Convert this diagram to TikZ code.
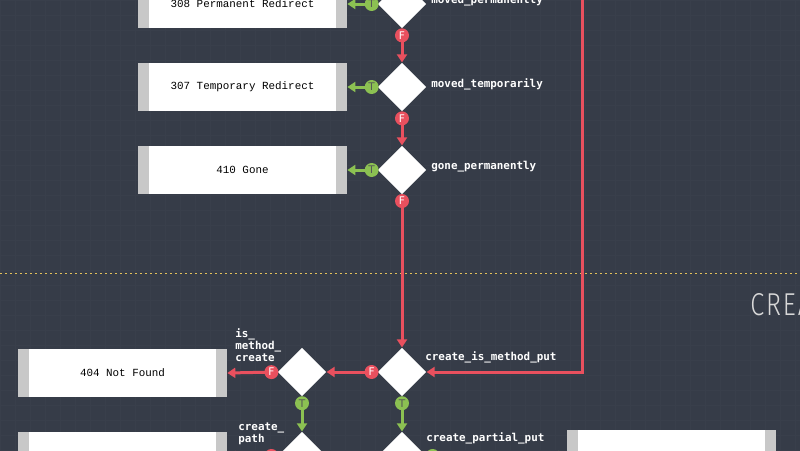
\documentclass[tikz,border=0pt]{standalone}
\usepackage{fontspec}
\setmonofont{DejaVu Sans Mono}
\newfontfamily\boxfont{Liberation Mono}
\newfontfamily\tagfont{DejaVu Sans}
\newfontfamily\headfont[FakeStretch=0.8,LetterSpace=6]{Fira Sans Light}
\usepackage{xcolor}
\usepackage{tikz}
\usetikzlibrary{arrows.meta,shapes.geometric,calc}

\definecolor{bgslate}{HTML}{363C48}
\definecolor{gridslate}{HTML}{393F4B}
\definecolor{yesgreen}{HTML}{8CC152}
\definecolor{nored}{HTML}{E9505E}
\definecolor{bargray}{HTML}{C8C8C8}
\definecolor{sepyellow}{HTML}{E3C05A}
\definecolor{headgray}{HTML}{D8D8D8}
\definecolor{tagtext}{HTML}{555A55}

\tikzset{
  decision/.style={diamond, fill=white, inner sep=0pt, minimum width=0.97cm, minimum height=0.97cm},
  resbox/.style={rectangle, fill=white, minimum width=4.18cm, minimum height=0.96cm, inner sep=0pt,
    text=black, font=\boxfont\fontsize{6.2}{7}\selectfont,
    path picture={
      \fill[bargray] (path picture bounding box.south west) rectangle ([xshift=0.22cm]path picture bounding box.north west);
      \fill[bargray] (path picture bounding box.south east) rectangle ([xshift=-0.22cm]path picture bounding box.north east);}},
  lbl/.style={anchor=west, inner sep=0pt, text=white, align=left, font=\ttfamily\bfseries\fontsize{6.2}{6.8}\selectfont},
  tcirc/.style={circle, fill=yesgreen, text=tagtext, minimum size=0.28cm, inner sep=0pt, font=\tagfont\fontsize{6}{6}\selectfont},
  fcirc/.style={circle, fill=nored, text=white, minimum size=0.28cm, inner sep=0pt, font=\tagfont\fontsize{6}{6}\selectfont},
  yesline/.style={draw=yesgreen, line width=0.06cm, -{Triangle[width=0.2cm,length=0.16cm]}},
  noline/.style={draw=nored, line width=0.06cm, -{Triangle[width=0.2cm,length=0.16cm]}},
}

\begin{document}
\begin{tikzpicture}[x=0.02cm, y=-0.02cm]
% background
\fill[bgslate] (0,0) rectangle (800,450);
\useasboundingbox (0,0) rectangle (800,450);
\foreach \gx in {0,15,...,795} \draw[gridslate, line width=0.02cm] (\gx,0) -- (\gx,450);
\foreach \gy in {0,15,...,450} \draw[gridslate, line width=0.02cm] (0,\gy) -- (800,\gy);
\draw[sepyellow, line width=0.02cm, dash pattern=on 0.04cm off 0.06cm] (0,273) -- (800,273);
\node[anchor=base west, inner sep=0pt, text=headgray, font=\headfont\fontsize{18}{18}\selectfont] (crea) at (750,315) {CREA};

% decisions
\node[decision] (movperm) at (402,4) {};
\node[decision] (movtemp) at (402,87) {};
\node[decision] (gone) at (402,170) {};
\node[decision] (ismput) at (402,372) {};
\node[decision] (ismcreate) at (302,372) {};
\node[decision] (cpath) at (302,456) {};
\node[decision] (cpartput) at (402,456) {};

% decision labels
\node[lbl] (lmovperm) at (431,1) {moved\_permanently};
\node[lbl] (lmovtemp) at (431,84) {moved\_temporarily};
\node[lbl] (lgone) at (431,167) {gone\_permanently};
\node[lbl] (lismput) at (425,357) {create\_is\_method\_put};
\node[lbl] (lismcreate) at (235,345) {is\_\\method\_\\create};
\node[lbl] (lcpath) at (238,434) {create\_\\path};
\node[lbl] (lcpartput) at (426,438) {create\_partial\_put};

% responses
\node[resbox] (r308) at (242.5,4) {308 Permanent Redirect};
\node[resbox] (r307) at (242.5,87) {307 Temporary Redirect};
\node[resbox] (r410) at (242.5,170) {410 Gone};
\node[resbox] (r404) at (122.5,373) {404 Not Found};
\node[resbox] (rpath) at (122.5,456) {};
\node[resbox] (rpart) at (671.5,454) {};

% true branches
\draw[yesline] (movperm.west) -- node[tcirc, pos=0.19]{T} (r308.east);
\draw[yesline] (movtemp.west) -- node[tcirc, pos=0.19]{T} (r307.east);
\draw[yesline] (gone.west) -- node[tcirc, pos=0.19]{T} (r410.east);
\draw[yesline] (ismcreate.south) -- node[tcirc, pos=0.19]{T} (cpath.north);
\draw[yesline] (ismput.south) -- node[tcirc, pos=0.19]{T} (cpartput.north);
\draw[yesline] (cpartput.east) -- node[tcirc, pos=0.043]{T} (cpartput.east -| rpart.west);

% false branches
\draw[noline] (movperm.south) -- node[fcirc, pos=0.2]{F} (movtemp.north);
\draw[noline] (movtemp.south) -- node[fcirc, pos=0.2]{F} (gone.north);
\draw[noline] (gone.south) -- node[fcirc, pos=0.042]{F} (ismput.north);
\draw[noline] (ismput.west) -- node[fcirc, pos=0.115]{F} (ismcreate.east);
\draw[noline] (ismcreate.west) -- node[fcirc, pos=0.12]{F} (r404.east);
\draw[noline] (cpath.west) -- node[fcirc, pos=0.12]{F} (rpath.east);
\coordinate (loopin) at (582,-10);
\draw[noline] (loopin) |- (ismput.east);
\end{tikzpicture}
\end{document}
